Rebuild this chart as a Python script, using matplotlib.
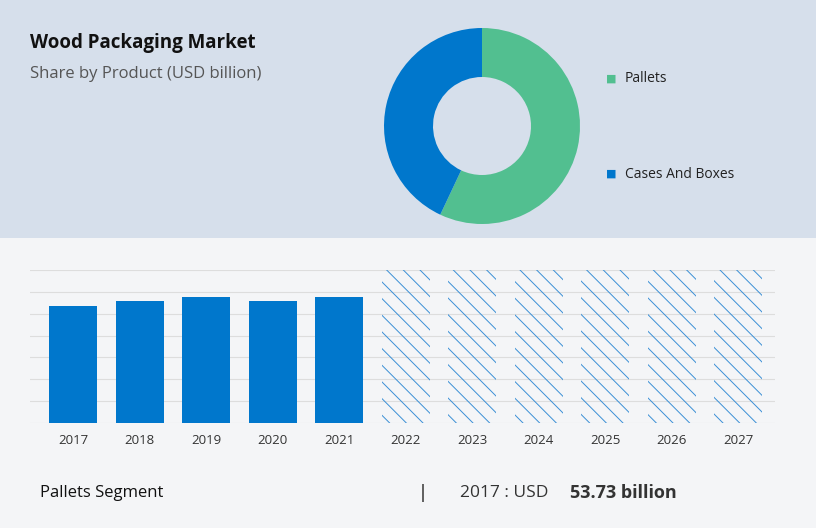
import matplotlib.pyplot as plt
from matplotlib.patches import Rectangle

segments = ["Pallets", "Cases And Boxes"]
shares = [57, 43]
seg_colors = ["#52bf90", "#0077cc"]

years = ["2017", "2018", "2019", "2020", "2021", "2022", "2023", "2024", "2025", "2026", "2027"]
values = [53.73, 55.6, 57.8, 56.0, 57.8]
forecast = [70, 70, 70, 70, 70, 70]

plt.rcParams["hatch.color"] = "#3a8fd6"
plt.rcParams["hatch.linewidth"] = 0.7

W, H = 816, 528
fig = plt.figure(figsize=(W / 100, H / 100), dpi=100)
fig.patch.set_facecolor("#f4f5f7")
fig.add_artist(Rectangle((0, 1 - 238 / H), 1, 238 / H, transform=fig.transFigure,
                         facecolor="#d6dfeb", edgecolor="none", zorder=0))

fig.text(30 / W, 1 - 43 / H, "Wood Packaging Market", fontsize=13.5, fontweight="bold",
         color="#111111", family="Open Sans", va="center")
fig.text(30 / W, 1 - 74 / H, "Share by Product (USD billion)", fontsize=12,
         color="#555555", family="Open Sans", va="center")

# donut
ax_d = fig.add_axes([(482 - 98) / W, 1 - (126 + 98) / H, 196 / W, 196 / H])
ax_d.pie(shares, colors=seg_colors, startangle=90, counterclock=False, radius=1,
         wedgeprops=dict(width=0.5, edgecolor="none"))
ax_d.set_xlim(-1, 1)
ax_d.set_ylim(-1, 1)
ax_d.set_aspect("equal")
ax_d.axis("off")

for i, (s, c) in enumerate(zip(segments, seg_colors)):
    y = 1 - (79 + 95 * i) / H
    fig.text(606 / W, y, "\u25a0", color=c, fontsize=8, va="center")
    fig.text(625 / W, y, s, color="#222222", fontsize=10, family="Open Sans", va="center")

# bars
ax = fig.add_axes([30 / W, 1 - 423 / H, 745 / W, 153 / H])
ax.set_facecolor("none")
x = list(range(len(years)))
ax.bar(x[:5], values, width=0.72, color="#0077cc", zorder=3)
ax.bar(x[5:], forecast, width=0.72, color="none", edgecolor="#3a8fd6",
       hatch="\\\\", linewidth=0, zorder=3)
ax.set_xlim(-0.65, len(years) - 0.45)
ax.set_ylim(0, 70)
ax.set_yticks(range(0, 71, 10))
ax.yaxis.grid(True, color="#dddddd", linewidth=0.8)
ax.tick_params(axis="y", left=False, labelleft=False)
ax.tick_params(axis="x", length=0, pad=8, labelsize=9.5, labelcolor="#333333")
ax.set_xticks(x)
ax.set_xticklabels(years, family="Open Sans")
for sp in ax.spines.values():
    sp.set_visible(False)

fig.text(40 / W, 1 - 493 / H, "Pallets Segment", fontsize=12, family="Open Sans",
         color="#111111", va="center")
fig.text(420 / W, 1 - 493 / H, "|", fontsize=13, color="#333333", va="center")
fig.text(460 / W, 1 - 493 / H, "2017 : USD ", fontsize=12.5, family="Open Sans",
         color="#333333", va="center")
fig.text(570 / W, 1 - 493 / H, "53.73 billion", fontsize=13, fontweight="bold",
         family="Open Sans", color="#333333", va="center")

fig.savefig("out.png", dpi=100, facecolor=fig.get_facecolor())
